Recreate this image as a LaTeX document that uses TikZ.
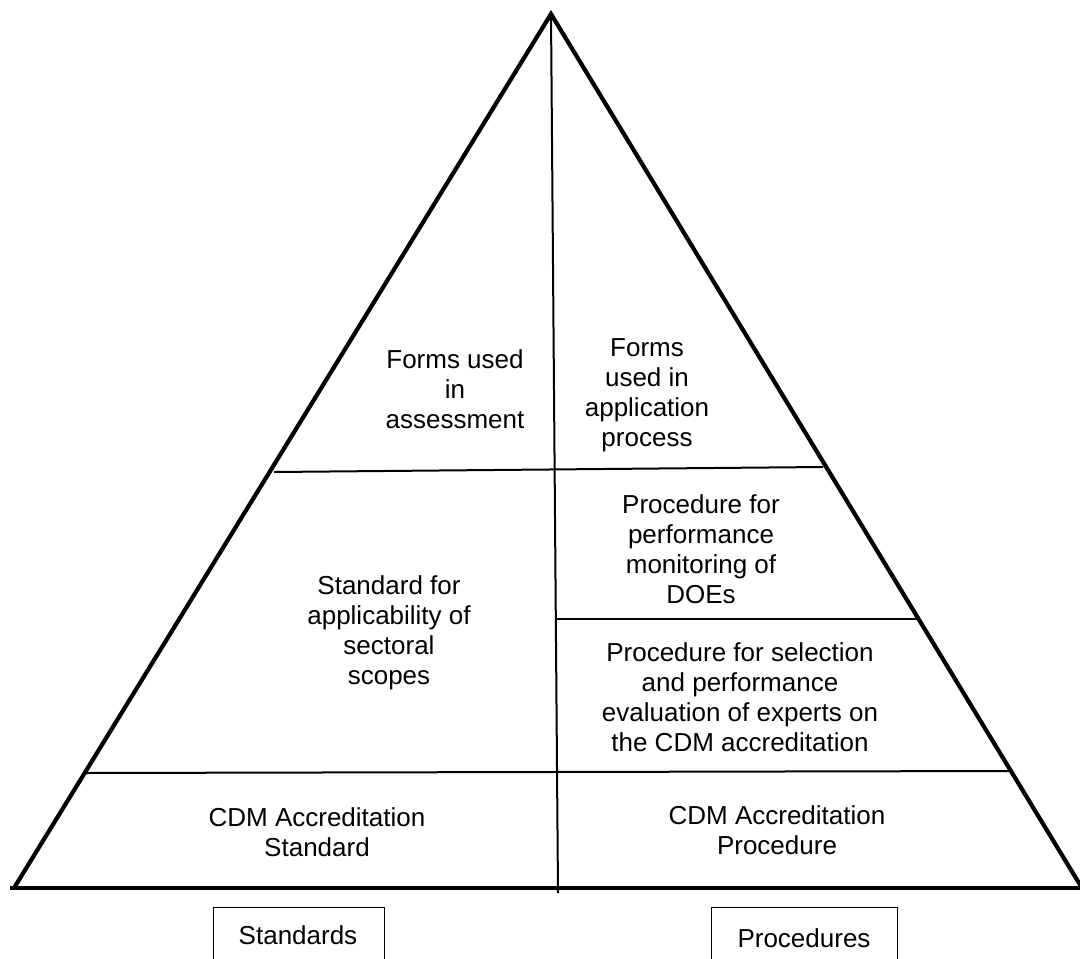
\documentclass[tikz,border=0pt]{standalone}
\usepackage{fontspec}
\setmainfont{Liberation Sans}
\begin{document}
\begin{tikzpicture}[x=1pt,y=-1pt,
  side/.style={line width=4.2pt,line join=miter,line cap=butt},
  inner/.style={line width=2pt},
  lbl/.style={align=center,inner sep=0pt,font=\fontsize{26}{30}\selectfont},
  legend/.style={draw,line width=1pt,minimum width=171pt,minimum height=60pt,anchor=north,font=\fontsize{26}{30}\selectfont,text depth=0pt}]
\clip (0,0) rectangle (1080,959);
\useasboundingbox (0,0) rectangle (1080,959);
% coordinates
\coordinate (apex) at (551,14);
\coordinate (bl) at (14,888);
\coordinate (br) at (1082,888);
\coordinate (cbot) at (558,893);
\coordinate (l1a) at (274,472);
\coordinate (l1b) at (823,467);
\coordinate (l2a) at (556,619);
\coordinate (l2b) at (918,619);
\coordinate (l3a) at (86,773);
\coordinate (l3b) at (1012,771);
\coordinate (b0) at (10,888);
\coordinate (b1) at (1080,888);
% interior lines
\draw[inner] (apex) -- (cbot);
\draw[inner] (l1a) -- (l1b);
\draw[inner] (l2a) -- (l2b);
\draw[inner] (l3a) -- (l3b);
% outline
\draw[side] (bl) -- (apex) -- (br);
\draw[side] (b0) -- (b1);
% labels
\node[lbl] (fa) at (455,389) {Forms used\\in\\assessment};
\node[lbl] (fp) at (647,395) {Forms\\used in\\application\\process};
\node[lbl] (sa) at (389,633) {Standard for\\applicability of\\sectoral\\scopes};
\node[lbl] (pm) at (701,549) {Procedure for\\performance\\monitoring of\\DOEs};
\node[lbl] (ps) at (740,697) {Procedure for selection\\and performance\\evaluation of experts on\\the CDM accreditation};
\node[lbl] (cs) at (317,832) {CDM Accreditation\\Standard};
\node[lbl] (cp) at (777,830) {CDM Accreditation\\Procedure};
% legend boxes
\node[legend] (st) at (298.5,907) {};
\node[legend,minimum width=186pt] (pr) at (804,907) {};
\node[lbl] (stt) at (298,935) {Standards};
\node[lbl] (prt) at (804,938) {Procedures};
\end{tikzpicture}
\end{document}
